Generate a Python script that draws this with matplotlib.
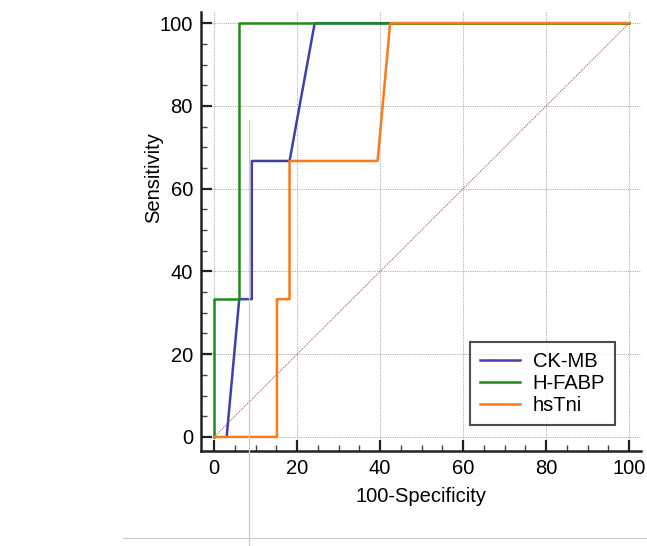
import matplotlib
matplotlib.use("Agg")
import matplotlib.pyplot as plt
from matplotlib.lines import Line2D
from matplotlib.ticker import MultipleLocator

FONT_SIZE = 14.5
plt.rcParams['font.family'] = ['Liberation Sans', 'DejaVu Sans']

# ROC curve points (100-Specificity, Sensitivity)
ckmb_x = [3.03, 6.06, 9.09, 9.09, 18.18, 24.24, 100]
ckmb_y = [0, 33.3, 33.3, 66.7, 66.7, 100, 100]

hfabp_x = [0, 0, 6.06, 6.06, 100]
hfabp_y = [0, 33.3, 33.3, 100, 100]

hstni_x = [0, 15.15, 15.15, 18.18, 18.18, 39.39, 42.42, 100]
hstni_y = [0, 0, 33.3, 33.3, 66.7, 66.7, 100, 100]

labels = ['CK-MB', 'H-FABP', 'hsTni']
colors = ['#4040a8', '#1f8a1f', '#f77a1c']

fig = plt.figure(figsize=(6.47, 5.46), dpi=100)
ax = fig.add_axes([0.311, 0.174, 0.68, 0.804])

# reference diagonal
ax.plot([0, 100], [0, 100], color='#b06060', lw=0.8, ls=(0, (1, 1)), zorder=2)

for xs, ys, lab, c in zip([ckmb_x, hfabp_x, hstni_x], [ckmb_y, hfabp_y, hstni_y], labels, colors):
    ax.plot(xs, ys, color=c, lw=1.8, label=lab, zorder=3)

ax.set_xlim(-3.1, 102.9)
ax.set_ylim(-3.4, 102.7)
ax.xaxis.set_major_locator(MultipleLocator(20))
ax.yaxis.set_major_locator(MultipleLocator(20))
ax.xaxis.set_minor_locator(MultipleLocator(5))
ax.yaxis.set_minor_locator(MultipleLocator(5))
ax.tick_params(which='major', direction='in', length=8, width=1.6, labelsize=FONT_SIZE, pad=6, color='#222222')
ax.tick_params(which='minor', direction='in', length=4, width=1.0, color='#444444')
ax.grid(True, which='major', color='#b0b0b0', ls=(0, (1, 1)), lw=0.8)

for s in ['top', 'right']:
    ax.spines[s].set_visible(False)
for s in ['left', 'bottom']:
    ax.spines[s].set_linewidth(1.8)
    ax.spines[s].set_color('#222222')

ax.set_xlabel('100-Specificity', fontsize=FONT_SIZE, labelpad=6)
ax.set_ylabel('Sensitivity', fontsize=FONT_SIZE)
ax.yaxis.set_label_coords(-0.086, 0.624)

leg = ax.legend(loc='lower right', fontsize=FONT_SIZE, frameon=True, fancybox=False,
                edgecolor='#222222', handlelength=2.0, borderaxespad=1.3,
                labelspacing=0.15, handletextpad=0.6, borderpad=0.5)
leg.get_frame().set_linewidth(1.5)

# faint screenshot guide lines
fig.add_artist(Line2D([249 / 647, 249 / 647], [0, 1 - 120 / 546], color='#cccccc', lw=0.9))
fig.add_artist(Line2D([123 / 647, 1], [1 - 538 / 546, 1 - 538 / 546], color='#cccccc', lw=0.9))

fig.savefig('out.png', dpi=100)
